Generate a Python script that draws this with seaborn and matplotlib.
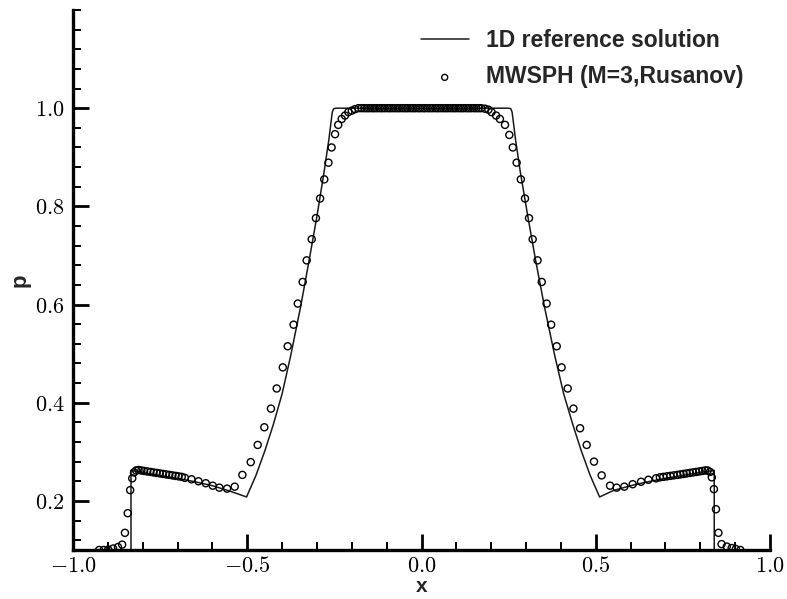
import matplotlib
matplotlib.use("Agg")
import matplotlib.pyplot as plt
from matplotlib.ticker import MultipleLocator, FuncFormatter
import seaborn as sns
import pandas as pd

# 1D reference solution (pressure profile)
x_ref = [-1.0, -0.8336, -0.8336, -0.80, -0.75, -0.70, -0.65, -0.60, -0.55, -0.502,
         -0.475, -0.449, -0.425, -0.400, -0.375, -0.347, -0.323, -0.300, -0.280,
         -0.266, -0.259, -0.256, -0.252, -0.245, 0.0, 0.250, 0.256, 0.260, 0.263,
         0.270, 0.284, 0.305, 0.328, 0.353, 0.382, 0.408, 0.434, 0.458, 0.484,
         0.511, 0.55, 0.60, 0.65, 0.70, 0.75, 0.80, 0.840, 0.840, 1.0]
p_ref = [0.1, 0.1, 0.262, 0.258, 0.252, 0.246, 0.239, 0.231, 0.220, 0.208,
         0.252, 0.303, 0.356, 0.418, 0.497, 0.595, 0.688, 0.780, 0.868,
         0.935, 0.975, 0.992, 0.999, 1.0, 1.0, 1.0, 0.999, 0.992, 0.975,
         0.935, 0.868, 0.780, 0.688, 0.595, 0.497, 0.418, 0.356, 0.303, 0.252,
         0.208, 0.221, 0.231, 0.239, 0.246, 0.252, 0.258, 0.262, 0.1, 0.1]

# MWSPH particles (M=3, Rusanov)
x_sph = [-0.925, -0.912, -0.899, -0.885, -0.871, -0.859, -0.851, -0.843, -0.836, -0.830,
         -0.825, -0.819, -0.812, -0.804, -0.796, -0.787, -0.778, -0.769, -0.760, -0.751,
         -0.742, -0.733, -0.724, -0.715, -0.706, -0.697, -0.688, -0.679, -0.660, -0.640,
         -0.619, -0.599, -0.580, -0.558, -0.536, -0.514, -0.490,
         -0.470, -0.451, -0.432, -0.4155, -0.398, -0.384, -0.367, -0.355, -0.341, -0.3295,
         -0.315, -0.303, -0.291, -0.279, -0.267, -0.258, -0.248, -0.239, -0.229, -0.2195,
         -0.210, -0.200, -0.191, -0.181,
         -0.172, -0.164, -0.157, -0.150, -0.142, -0.135, -0.128, -0.120, -0.113, -0.106,
         -0.098, -0.091, -0.084, -0.076, -0.069, -0.062, -0.054, -0.047, -0.040, -0.032,
         -0.025, -0.018, -0.010, -0.004, 0.004, 0.010, 0.018, 0.025, 0.032, 0.040,
         0.047, 0.054, 0.062, 0.069, 0.076, 0.084, 0.091, 0.098, 0.106, 0.113,
         0.120, 0.128, 0.135, 0.142, 0.150, 0.157, 0.164, 0.171,
         0.182, 0.192, 0.201, 0.214, 0.225, 0.2396, 0.252, 0.262, 0.273, 0.285,
         0.297, 0.3085, 0.319, 0.333, 0.345, 0.359, 0.372, 0.388, 0.402, 0.4195,
         0.436, 0.455, 0.474, 0.495, 0.517, 0.541, 0.560, 0.582, 0.606, 0.630,
         0.651, 0.673,
         0.684, 0.694, 0.704, 0.714, 0.724, 0.734, 0.743, 0.752, 0.761, 0.770,
         0.779, 0.788, 0.797, 0.806, 0.814, 0.821, 0.828, 0.833, 0.839, 0.845,
         0.852, 0.861, 0.876, 0.890, 0.902, 0.915]
p_sph = [0.100, 0.100, 0.101, 0.103, 0.106, 0.111, 0.135, 0.175, 0.222, 0.246,
         0.258, 0.262, 0.263, 0.262, 0.261, 0.260, 0.259, 0.258, 0.257, 0.256,
         0.255, 0.254, 0.253, 0.252, 0.251, 0.250, 0.249, 0.247, 0.244, 0.240,
         0.236, 0.231, 0.227, 0.225, 0.229, 0.253, 0.279,
         0.314, 0.350, 0.388, 0.429, 0.472, 0.515, 0.559, 0.602, 0.646, 0.690,
         0.733, 0.776, 0.816, 0.855, 0.889, 0.920, 0.947, 0.966, 0.978, 0.985,
         0.992, 0.995, 0.998, 1.0,
         1.0, 1.0, 1.0, 1.0, 1.0, 1.0, 1.0, 1.0, 1.0, 1.0,
         1.0, 1.0, 1.0, 1.0, 1.0, 1.0, 1.0, 1.0, 1.0, 1.0,
         1.0, 1.0, 1.0, 1.0, 1.0, 1.0, 1.0, 1.0, 1.0, 1.0,
         1.0, 1.0, 1.0, 1.0, 1.0, 1.0, 1.0, 1.0, 1.0, 1.0,
         1.0, 1.0, 1.0, 1.0, 1.0, 1.0, 1.0, 1.0,
         0.999, 0.997, 0.992, 0.985, 0.978, 0.966, 0.9455, 0.920, 0.889, 0.855,
         0.816, 0.776, 0.733, 0.690, 0.646, 0.602, 0.559, 0.515, 0.472, 0.429,
         0.388, 0.348, 0.314, 0.280, 0.252, 0.231, 0.227, 0.229, 0.234, 0.239,
         0.243, 0.246,
         0.248, 0.249, 0.250, 0.251, 0.252, 0.253, 0.254, 0.255, 0.256, 0.257,
         0.258, 0.259, 0.260, 0.261, 0.262, 0.262, 0.259, 0.248, 0.224, 0.183,
         0.135, 0.112, 0.107, 0.104, 0.102, 0.100]

x_ticks = [-1.0, -0.5, 0.0, 0.5, 1.0]
p_ticks = [0.2, 0.4, 0.6, 0.8, 1.0]

sns.set_theme(style="ticks")
plt.rcParams["mathtext.fontset"] = "cm"
plt.rcParams["font.family"] = ["Liberation Sans", "DejaVu Sans"]

ref_df = pd.DataFrame({"x": x_ref, "p": p_ref})
sph_df = pd.DataFrame({"x": x_sph, "p": p_sph})

fig = plt.figure(figsize=(7.87, 5.99), dpi=100)
ax = fig.add_axes([73 / 787, 1 - 550 / 599, (770 - 73) / 787, (550 - 10) / 599])

sns.lineplot(data=ref_df, x="x", y="p", ax=ax, sort=False, estimator=None,
             color="#1a1a1a", linewidth=1.1, label="1D reference solution")
sns.scatterplot(data=sph_df, x="x", y="p", ax=ax, marker="o", s=26,
                linewidth=1.0, label="MWSPH (M=3,Rusanov)", zorder=3)
pts = ax.collections[-1]
pts.set_facecolor("none")
pts.set_edgecolor("black")

ax.set_xlim(-1.0, 1.0)
ax.set_ylim(0.1, 1.2)
ax.set_xticks(x_ticks)
ax.set_yticks(p_ticks)
ax.xaxis.set_minor_locator(MultipleLocator(0.1))
ax.yaxis.set_minor_locator(MultipleLocator(0.04))
fmt = FuncFormatter(lambda v, _: r"$%.1f$" % v)
ax.xaxis.set_major_formatter(fmt)
ax.yaxis.set_major_formatter(fmt)

for side in ("top", "right"):
    ax.spines[side].set_visible(False)
for side in ("left", "bottom"):
    ax.spines[side].set_linewidth(2.4)
    ax.spines[side].set_color("black")

ax.tick_params(which="major", direction="in", length=11.5, width=2.0,
               labelsize=16, pad=6, colors="black")
ax.tick_params(which="minor", direction="in", length=5.8, width=1.4, colors="black")
ax.tick_params(axis="x", which="major", pad=4)

ax.set_xlabel("x", fontsize=15, fontweight="bold", labelpad=0)
ax.set_ylabel("p", fontsize=16, fontweight="bold", labelpad=3)

leg = ax.legend(loc="upper left", bbox_to_anchor=(400 / 787, 1 - 8 / 599),
                bbox_transform=fig.transFigure, frameon=False,
                prop={"weight": "bold", "size": 16.5}, handlelength=2.1,
                handletextpad=0.75, labelspacing=0.6, markerscale=0.85)
for h in leg.legend_handles:
    if hasattr(h, "set_facecolor") and not hasattr(h, "get_xdata"):
        h.set_facecolor("none")
        h.set_edgecolor("black")

fig.savefig("out.png", dpi=100)
